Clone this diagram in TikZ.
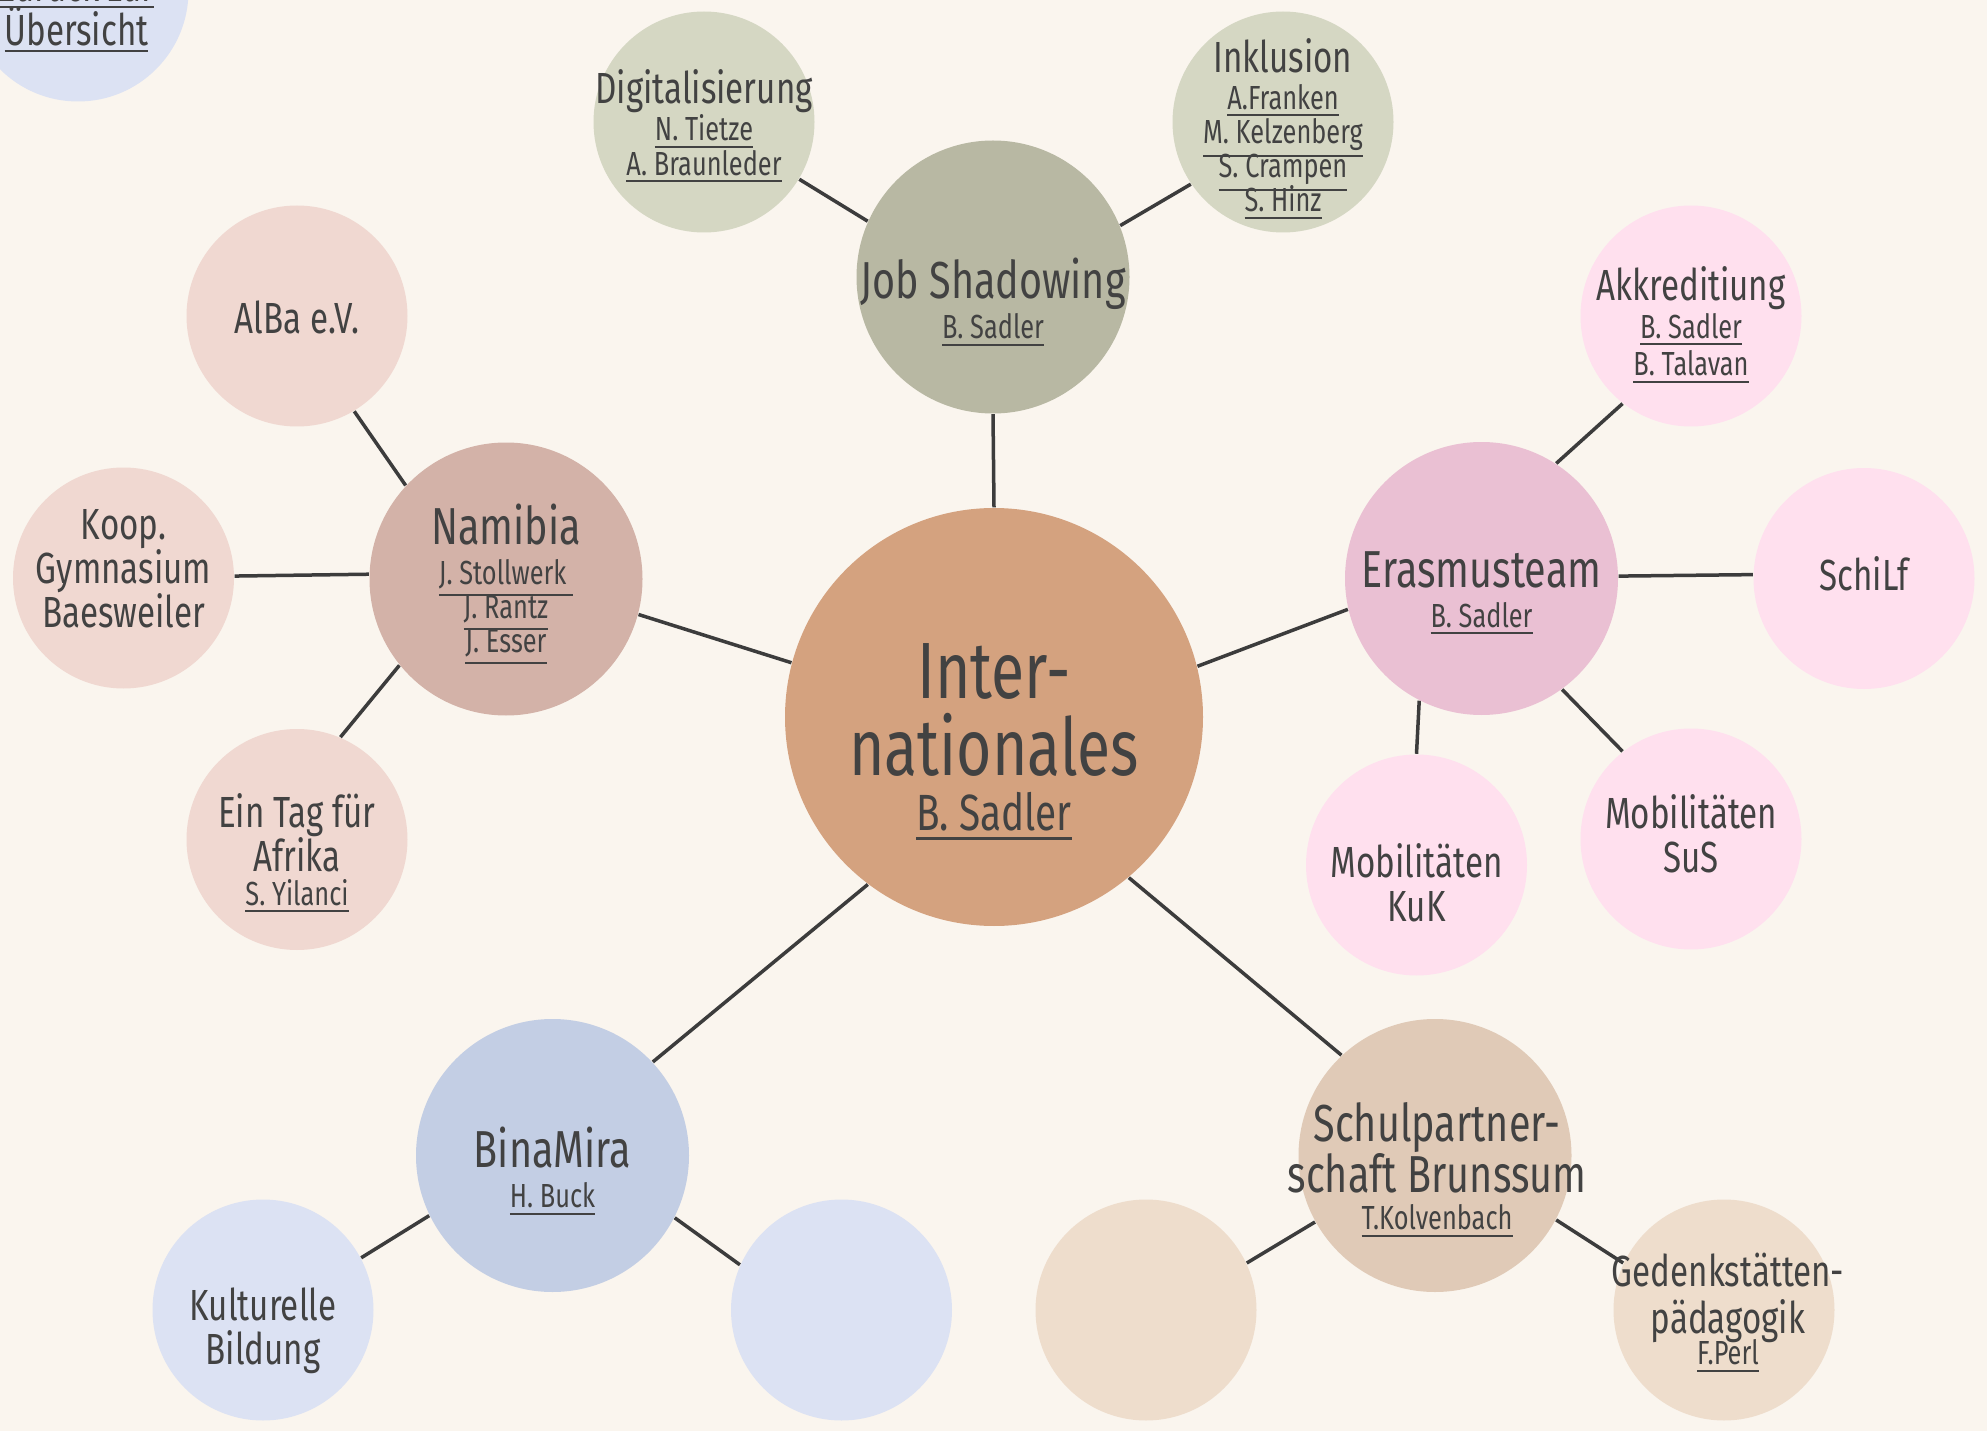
\documentclass[tikz,border=0pt]{standalone}
\usepackage{fontspec}
\setmainfont{Fira Sans}[FakeStretch=0.76]

\definecolor{paper}{HTML}{FAF5EE}
\definecolor{ink}{HTML}{424242}
\definecolor{wire}{HTML}{3C3C3C}
\definecolor{hubCol}{HTML}{D4A27F}
\definecolor{jobCol}{HTML}{B8B8A3}
\definecolor{jobLight}{HTML}{D5D7C3}
\definecolor{erasCol}{HTML}{EAC0D3}
\definecolor{erasLight}{HTML}{FFE0EE}
\definecolor{namCol}{HTML}{D3B2A8}
\definecolor{namLight}{HTML}{F0D8D1}
\definecolor{binaCol}{HTML}{C3CEE4}
\definecolor{binaLight}{HTML}{DCE2F3}
\definecolor{schulCol}{HTML}{E0CAB7}
\definecolor{schulLight}{HTML}{EEDDCC}

\newcommand{\tightlines}{\lineskiplimit=-30pt\relax}
% underlined names
\newcommand{\ul}[3]{\leavevmode\vtop{\hbox{#1}\kern#2\hrule height#3}}
\newcommand{\nm}[1]{{\fontsize{9.5}{9.7}\selectfont\ul{#1}{1.3pt}{0.6pt}}}
\newcommand{\nmbig}[1]{{\fontsize{14.5}{9.7}\selectfont\ul{#1}{1.7pt}{0.9pt}}}

\tikzset{
  bubble/.style={circle, inner sep=0pt},
  bubA/.style={bubble, minimum size=41.8mm},
  bubB/.style={bubble, minimum size=27.3mm},
  bubC/.style={bubble, minimum size=22.1mm},
  txtA/.style={align=center, text=ink, font=\fontsize{22.7}{9.7}\selectfont\tightlines},
  txtB/.style={align=center, text=ink, font=\fontsize{14.8}{9.7}\selectfont\tightlines},
  txtC/.style={align=center, text=ink, font=\fontsize{12.4}{9.7}\selectfont\tightlines},
  link/.style={draw=wire, line width=0.35mm},
}

\begin{document}
\begin{tikzpicture}[x=0.1mm, y=-0.1mm]
    \fill[paper] (0,0) rectangle (1987,1431);
    \useasboundingbox (0,0) rectangle (1987,1431);

    % circles
    \node[bubC, fill=binaLight] (back) at (78,-9) {};
    \node[bubA, fill=hubCol] (hub) at (994,717) {};
    \node[bubB, fill=jobCol] (job) at (993,277) {};
    \node[bubC, fill=jobLight] (digi) at (704,122) {};
    \node[bubC, fill=jobLight] (inkl) at (1283,122) {};
    \node[bubB, fill=erasCol] (eras) at (1481.5,578.5) {};
    \node[bubC, fill=erasLight] (akk) at (1691,316) {};
    \node[bubC, fill=erasLight] (schilf) at (1864,578.5) {};
    \node[bubC, fill=erasLight] (sus) at (1691,839) {};
    \node[bubC, fill=erasLight] (kuk) at (1416.5,865) {};
    \node[bubB, fill=namCol] (nam) at (506,579) {};
    \node[bubC, fill=namLight] (alba) at (297,316) {};
    \node[bubC, fill=namLight] (koop) at (123.5,578) {};
    \node[bubC, fill=namLight] (afrika) at (297,839.5) {};
    \node[bubB, fill=binaCol] (bina) at (552.5,1155.5) {};
    \node[bubC, fill=binaLight] (kultur) at (263,1310) {};
    \node[bubC, fill=binaLight] (binaX) at (841.5,1310) {};
    \node[bubB, fill=schulCol] (schul) at (1435,1155.5) {};
    \node[bubC, fill=schulLight] (schulX) at (1146,1310) {};
    \node[bubC, fill=schulLight] (gedenk) at (1724,1310) {};

    % connectors
    \draw[link] (hub.90) -- (job.270);
    \draw[link] (job.156) -- (digi.-31.5);
    \draw[link] (job.22.6) -- (inkl.214.5);
    \draw[link] (hub.165) -- (nam.-15.7);
    \draw[link] (hub.14.8) -- (eras.193.2);
    \draw[link] (hub.233) -- (bina.43);
    \draw[link] (hub.-50.6) -- (schul.133.3);
    \draw[link] (nam.137.7) -- (alba.-59.4);
    \draw[link] (nam.178.6) -- (koop.1.2);
    \draw[link] (nam.219.3) -- (afrika.67.4);
    \draw[link] (eras.57.5) -- (akk.232.3);
    \draw[link] (eras.1.4) -- (schilf.178.3);
    \draw[link] (eras.-54.7) -- (sus.128.4);
    \draw[link] (eras.243.8) -- (kuk.90);
    \draw[link] (bina.206.7) -- (kultur.28.5);
    \draw[link] (bina.-27.5) -- (binaX.156.2);
    \draw[link] (schul.209.5) -- (schulX.25.8);
    \draw[link] (schul.-28.3) -- (gedenk.155.5);

    % texts
    \node[txtC] (backT) at (76.5,10) {\ul{Zurück zur}{1.3pt}{0.6pt}\\[2.85pt]\ul{Übersicht}{1.3pt}{0.6pt}};
    \node[txtA] (hubT) at (994,742) {Inter-\\[12.2pt]nationales\\[6pt]\nmbig{B. Sadler}};
    \node[txtB] (jobT) at (993,302) {Job Shadowing\\[1.7pt]\nm{B. Sadler}};
    \node[txtC] (digiT) at (704,126) {Digitalisierung\\[0.85pt]\nm{N. Tietze}\\\nm{A. Braunleder}};
    \node[txtC] (inklT) at (1283,128.5) {Inklusion\\[0.85pt]\nm{A.Franken}\\\nm{M. Kelzenberg}\\\nm{S. Crampen}\\\nm{S. Hinz}};
    \node[txtB] (erasT) at (1481.5,593) {Erasmusteam\\[1.7pt]\nm{B. Sadler}};
    \node[txtC] (akkT) at (1691,325) {Akkreditiung\\[0.85pt]\nm{B. Sadler}\\[1.1pt]\nm{B. Talavan}};
    \node[txtC] (schilfT) at (1864,574) {SchiLf};
    \node[txtC] (susT) at (1691,834) {Mobilitäten\\[2.85pt]SuS};
    \node[txtC] (kukT) at (1416.5,883) {Mobilitäten\\[2.85pt]KuK};
    \node[txtB] (namT) at (506,584) {Namibia\\[1.7pt]\nm{J. Stollwerk\ }\\\nm{J. Rantz}\\\nm{J. Esser}};
    \node[txtC] (albaT) at (297,317) {AlBa e.V.};
    \node[txtC] (koopT) at (123.5,569) {Koop.\\[2.85pt]Gymnasium\\[2.85pt]Baesweiler};
    \node[txtC] (afrikaT) at (297,852.7) {Ein Tag für\\[2.85pt]Afrika\\[0pt]\nm{S. Yilanci}};
    \node[txtB] (binaT) at (552.5,1171) {BinaMira\\[1.7pt]\nm{H. Buck}};
    \node[txtC] (kulturT) at (263,1330.7) {Kulturelle\\[2.85pt]Bildung};
    \node[txtB] (schulT) at (1437,1170) {Schulpartner-\\[4.55pt]schaft Brunssum\\[1.1pt]\nm{T.Kolvenbach}};
    \node[txtC] (gedenkT) at (1728,1312.5) {Gedenkstätten-\\[3.6pt]pädagogik\\[-0.65pt]\nm{F.Perl}};
\end{tikzpicture}
\end{document}
